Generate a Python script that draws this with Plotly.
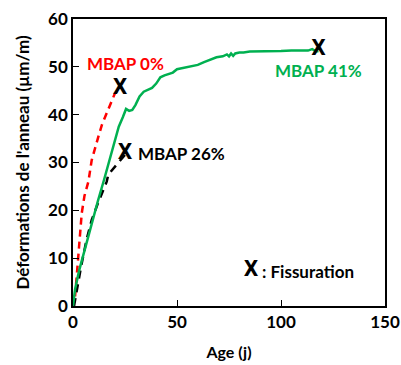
import plotly.graph_objects as go

# MBAP 41% (green, solid)
age41 = [0, 0.5, 1, 3, 6, 9, 12, 15, 18, 20, 22, 24, 25.5, 27, 28.5, 30, 32, 34, 36, 38, 40, 42, 44, 46,
         48, 50, 53, 56, 60, 63, 66, 69, 72, 74, 75, 76, 77, 78, 80, 82, 85, 90, 95, 100, 105, 110, 113, 115, 117, 118]
def41 = [0, 2, 3.5, 7.5, 12.5, 17.5, 22, 26.5, 31, 34, 37.5, 39.5, 41.2, 40.8, 41, 42, 43.8, 44.8, 45.2, 45.6,
         46.5, 47.8, 48.2, 48.5, 48.8, 49.5, 49.8, 50, 50.4, 51, 51.5, 52, 52.2, 52.6, 52.2, 52.8, 52.3, 52.8, 53, 53,
         53.2, 53.2, 53.3, 53.3, 53.4, 53.4, 53.4, 53.7, 53.2, 53.3]

# MBAP 0% (red, dashed)
age0 = [1, 2, 2.5, 3.3, 4.2, 5.5, 7.4, 9, 10.5, 12.2, 14, 16.2, 18, 20.2, 22.6]
def0 = [2, 7, 11, 15, 19.4, 23, 26, 30.5, 33, 35.4, 38, 40.3, 42.5, 44.5, 45.5]

# MBAP 26% (black, dashed)
age26 = [0.5, 2, 4, 6.6, 9, 12, 13.8, 15, 16.2, 17, 18.5, 20.2, 22.6, 25]
def26 = [0, 4, 8.5, 14, 18, 21.5, 23.6, 25, 26, 27.5, 28.3, 29.1, 30.5, 31.6]

# Cracking points (Fissuration)
crack_age = [22.6, 25, 118]
crack_def = [45.5, 31.8, 53.5]

# Labels
label_text = ["MBAP 0%", "MBAP 26%", "MBAP 41%"]
label_x = [25, 52, 117.8]
label_y = [50.6, 31.8, 49.3]
label_color = ["#ff0000", "#000000", "#00b050"]

legend_x = [85.6]
legend_y = [7.3]

mark_font = dict(family="Liberation Sans Narrow, DejaVu Sans Condensed", size=21, color="black")

fig = go.Figure()
fig.add_trace(go.Scatter(x=age0, y=def0, mode="lines",
                         line=dict(color="#ff0000", width=2.5, dash="7px,5px")))
fig.add_trace(go.Scatter(x=age26, y=def26, mode="lines",
                         line=dict(color="#000000", width=2.5, dash="8px,6px")))
fig.add_trace(go.Scatter(x=age41, y=def41, mode="lines",
                         line=dict(color="#00b050", width=2.5)))
fig.add_trace(go.Scatter(x=crack_age, y=crack_def, mode="text", text=["<b>X</b>"] * 3,
                         textfont=mark_font, textposition="middle center", cliponaxis=False))
fig.add_trace(go.Scatter(x=legend_x, y=legend_y, mode="text", text=["<b>X</b>"],
                         textfont=mark_font, textposition="middle center"))

for t, x, y, c in zip(label_text, label_x, label_y, label_color):
    fig.add_annotation(x=x, y=y, text="<b>" + t + "</b>", showarrow=False,
                       font=dict(family="Lato", size=17, color=c), xanchor="center", yanchor="middle")

fig.add_annotation(x=legend_x[0] + 4.5, y=legend_y[0], text="<b>: Fissuration</b>", showarrow=False,
                   font=dict(family="Lato", size=17, color="black"), xanchor="left", yanchor="middle")

axis_common = dict(showline=True, linecolor="black", linewidth=1.5, mirror=True, ticks="inside",
                   ticklen=6, tickwidth=1.2, tickcolor="black", showgrid=False, zeroline=False,
                   automargin=False, tickfont=dict(family="Lato", size=17, color="black"))
fig.update_xaxes(range=[0, 150], dtick=50, tickprefix="<b>", ticksuffix="</b>",
                 title=dict(text="<b>Age (j)</b>", font=dict(family="Lato", size=16, color="black"), standoff=16),
                 **axis_common)
fig.update_yaxes(range=[0, 60], dtick=10, tickprefix="<b>", ticksuffix="</b>",
                 title=dict(text="<b>Déformations de l'anneau (µm/m)</b>",
                            font=dict(family="Lato", size=17, color="black"), standoff=14),
                 **axis_common)
fig.update_layout(width=401, height=365, margin=dict(l=73, r=16, t=19, b=59),
                  plot_bgcolor="white", paper_bgcolor="white", showlegend=False)
fig.write_html("out.html")
